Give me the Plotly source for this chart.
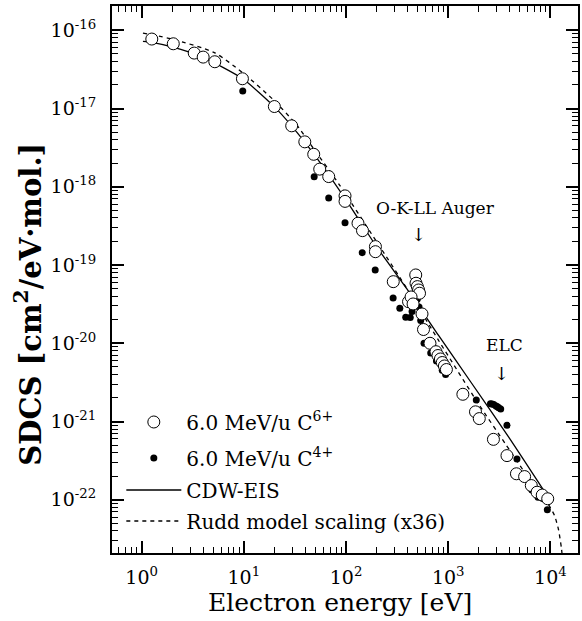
import plotly.graph_objects as go

# ---------------- data ----------------
c6_energy = [1.257, 2.04, 3.27, 4.00, 5.20, 9.69, 19.9, 29.4, 39.5, 48.3, 55.3, 67.7,
             97.8, 97.8, 131, 145, 194, 194, 290, 481, 484, 499, 513, 524, 409, 433,
             453, 554, 573, 663, 759, 794, 839, 874, 918, 960, 1391, 1849, 2014,
             2770, 3758, 4652, 5593, 6501, 7404, 8318, 9412]
c6_sdcs = [7.72e-17, 6.72e-17, 5.11e-17, 4.54e-17, 3.96e-17, 2.40e-17, 1.06e-17,
           6.01e-18, 3.75e-18, 2.60e-18, 1.68e-18, 1.35e-18, 7.65e-19, 6.51e-19,
           3.42e-19, 2.75e-19, 1.72e-19, 1.48e-19, 6.13e-20, 7.47e-20, 5.85e-20,
           5.30e-20, 4.80e-20, 4.36e-20, 3.40e-20, 3.91e-20, 3.18e-20, 2.37e-20,
           1.50e-20, 1.00e-20, 7.81e-21, 6.98e-21, 6.30e-21, 5.68e-21, 5.13e-21,
           4.62e-21, 2.23e-21, 1.33e-21, 1.09e-21, 5.92e-22, 3.67e-22, 2.15e-22,
           1.98e-22, 1.52e-22, 1.25e-22, 1.15e-22, 1.03e-22]

c4_energy = [9.76, 48.8, 67.7, 97.8, 144, 193, 289, 336, 384, 425, 443, 474, 499,
             518, 538, 538, 580, 674, 767, 874, 943, 1883, 2590, 2685, 2789, 2937,
             3030, 3121, 3263, 3758, 4705, 5630, 6588, 7570, 8472, 9329]
c4_sdcs = [1.67e-17, 1.34e-18, 7.21e-19, 3.48e-19, 1.44e-19, 8.66e-20, 3.80e-20,
           2.80e-20, 2.15e-20, 2.13e-20, 2.54e-20, 3.76e-20, 3.69e-20, 2.91e-20,
           2.39e-20, 1.96e-20, 1.00e-20, 7.52e-21, 5.94e-21, 4.51e-21, 3.99e-21,
           1.88e-21, 1.69e-21, 1.67e-21, 1.65e-21, 1.58e-21, 1.54e-21, 1.50e-21,
           1.45e-21, 8.94e-22, 3.31e-22, 2.10e-22, 1.33e-22, 1.08e-22, 1.04e-22,
           7.45e-23]

cdw_energy = [1.03, 1.26, 2.03, 3.97, 9.75, 19.5, 29.3, 49.1, 98.4, 197, 414, 811,
              1663, 3908, 8954]
cdw_sdcs = [7.23e-17, 7.01e-17, 6.07e-17, 4.52e-17, 2.40e-17, 1.08e-17, 6.01e-18,
            2.56e-18, 7.00e-19, 1.75e-19, 4.53e-20, 1.24e-20, 3.20e-21, 6.34e-22,
            1.22e-22]

rudd_energy = [1.03, 2.03, 5.20, 9.75, 19.5, 32.8, 49.1, 86.1, 197, 414, 811, 1991,
               3648, 7145, 9572, 10965, 11995, 12823, 13122]
rudd_sdcs = [9.20e-17, 7.67e-17, 5.15e-17, 2.86e-17, 1.29e-17, 6.19e-18, 2.96e-18,
             1.06e-18, 2.03e-19, 4.53e-20, 1.07e-20, 1.66e-21, 5.13e-22, 1.41e-22,
             8.71e-23, 6.31e-23, 4.17e-23, 2.40e-23, 1.78e-23]

x_tickvals = [1, 10, 100, 1000, 10000]
x_ticktext = ["10<sup>0</sup>", "10<sup>1</sup>", "10<sup>2</sup>", "10<sup>3</sup>", "10<sup>4</sup>"]
y_tickvals = [1e-16, 1e-17, 1e-18, 1e-19, 1e-20, 1e-21, 1e-22]
y_ticktext = ["10<sup>-16</sup>", "10<sup>-17</sup>", "10<sup>-18</sup>", "10<sup>-19</sup>",
              "10<sup>-20</sup>", "10<sup>-21</sup>", "10<sup>-22</sup>"]

FONT = "DejaVu Serif"

fig = go.Figure()
fig.add_trace(go.Scatter(x=cdw_energy, y=cdw_sdcs, mode="lines", name="CDW-EIS",
                         line=dict(color="black", width=1.3, shape="spline", smoothing=0.6),
                         legend="legend3"))
fig.add_trace(go.Scatter(x=rudd_energy, y=rudd_sdcs, mode="lines",
                         name="Rudd model scaling (x36)",
                         line=dict(color="black", width=1.3, dash="4px,4px", shape="spline", smoothing=0.6),
                         legend="legend4"))
fig.add_trace(go.Scatter(x=c4_energy, y=c4_sdcs, mode="markers",
                         name="6.0 MeV/u C<sup>4+</sup>",
                         marker=dict(symbol="circle", size=7, color="black"),
                         legend="legend2"))
fig.add_trace(go.Scatter(x=c6_energy, y=c6_sdcs, mode="markers",
                         name="6.0 MeV/u C<sup>6+</sup>",
                         marker=dict(symbol="circle", size=12, color="white",
                                     line=dict(color="black", width=1)),
                         legend="legend"))

axis_common = dict(type="log", showline=True, linewidth=2, linecolor="black", mirror="allticks",
                   ticks="inside", ticklen=12, tickwidth=1.5, tickcolor="black",
                   showgrid=False, zeroline=False,
                   tickfont=dict(family=FONT, size=19, color="black"))

x_minor = [m * 10 ** k for k in range(-1, 5) for m in range(2, 10)]
y_minor = [m * 10.0 ** k for k in range(-24, -15) for m in range(2, 10)]

fig.update_xaxes(range=[-0.29, 4.27], tickmode="array", tickvals=x_tickvals, ticktext=x_ticktext,
                 minor=dict(tickmode="array", tickvals=x_minor, ticks="inside", ticklen=6,
                            tickwidth=1, tickcolor="black", showgrid=False),
                 ticklabelstandoff=6, **axis_common)
fig.update_yaxes(range=[-22.68, -15.69], tickmode="array", tickvals=y_tickvals, ticktext=y_ticktext,
                 minor=dict(tickmode="array", tickvals=y_minor, ticks="inside", ticklen=6,
                            tickwidth=1, tickcolor="black", showgrid=False),
                 ticklabelstandoff=10, **axis_common)

fig.add_annotation(text="SDCS [cm<sup>2</sup>/eV·mol.]", xref="paper", yref="paper",
                   x=-0.179, y=0.455, xanchor="center", yanchor="middle",
                   textangle=-90, showarrow=False,
                   font=dict(family=FONT, size=29, color="black", weight="bold"))
fig.add_annotation(text="Electron energy [eV]", xref="paper", yref="paper",
                   x=0.49, y=-0.09, xanchor="center", yanchor="middle", showarrow=False,
                   font=dict(family=FONT, size=25, color="black"))
fig.add_annotation(text="O-K-LL Auger", x=2.875, y=-18.27, showarrow=False,
                   font=dict(family=FONT, size=17, color="black"))
fig.add_annotation(text="↓", x=2.714, y=-18.615, showarrow=False,
                   font=dict(family=FONT, size=18, color="black"))
fig.add_annotation(text="ELC", x=3.553, y=-20.02, showarrow=False,
                   font=dict(family=FONT, size=17, color="black"))
fig.add_annotation(text="↓", x=3.523, y=-20.38, showarrow=False,
                   font=dict(family=FONT, size=18, color="black"))

def leg(ypos):
    return dict(x=0.02, y=ypos, xanchor="left", yanchor="middle",
                bgcolor="rgba(0,0,0,0)", itemwidth=55,
                font=dict(family=FONT, size=20, color="black"))

fig.update_layout(width=582, height=621, margin=dict(l=112, r=2, t=6, b=68),
                  paper_bgcolor="white", plot_bgcolor="white",
                  legend=leg(0.2395), legend2=leg(0.1737),
                  legend3=leg(0.1152), legend4=leg(0.0585),
                  showlegend=True)

fig.write_html("out.html", config={"displayModeBar": False},
               post_script="document.body.style.margin='0';")
